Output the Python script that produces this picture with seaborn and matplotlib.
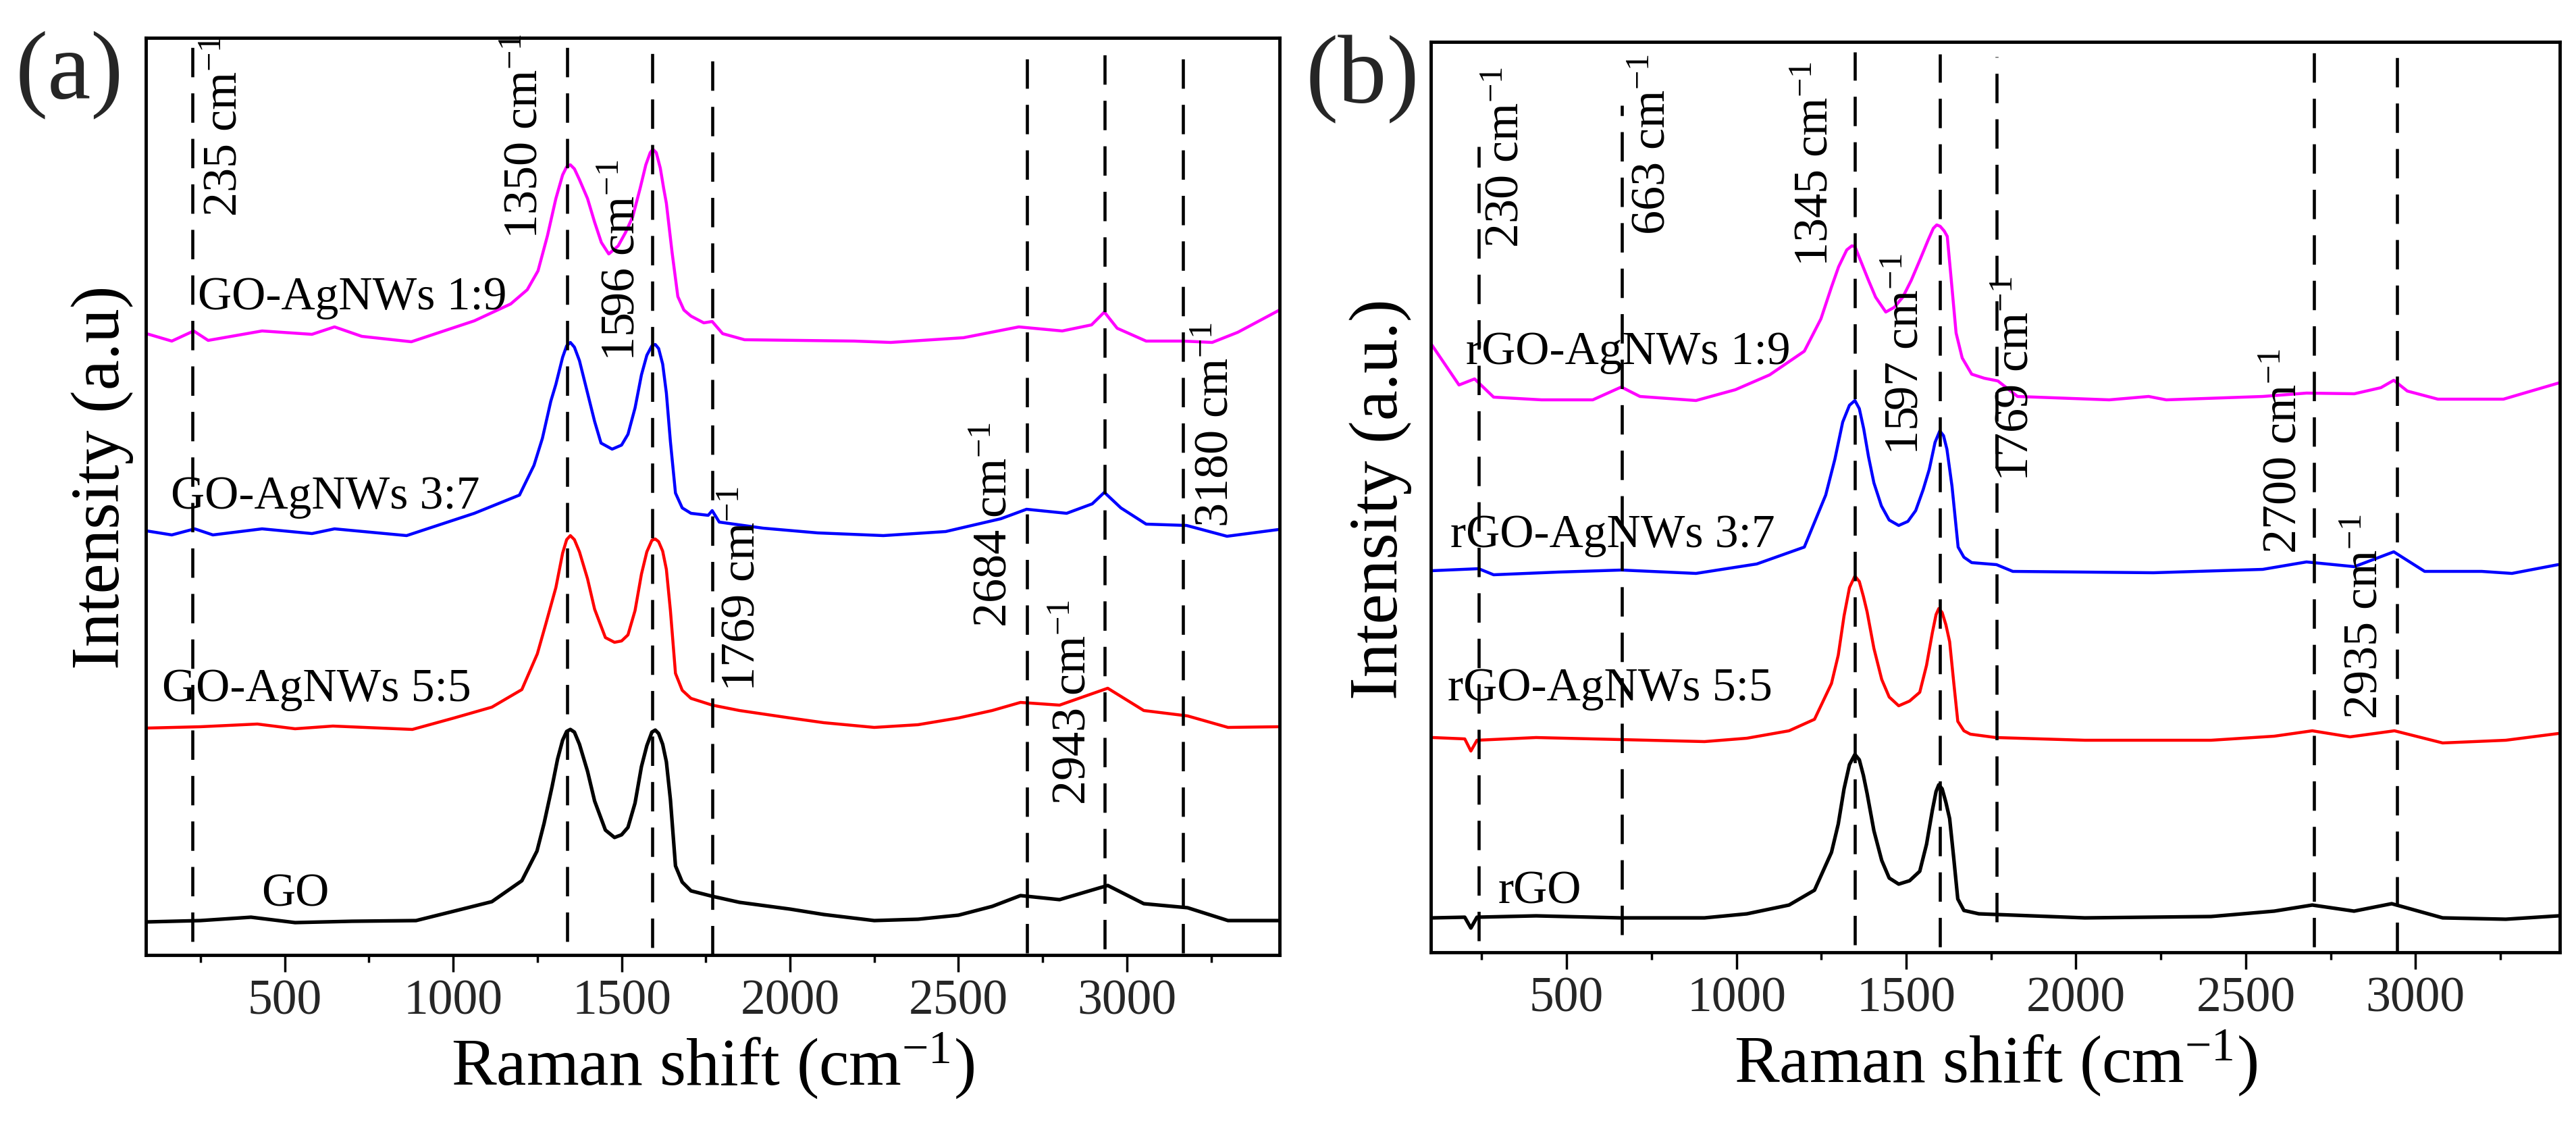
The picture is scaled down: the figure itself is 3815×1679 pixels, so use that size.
import numpy as np
import pandas as pd
import matplotlib
matplotlib.use("Agg")
import matplotlib.pyplot as plt
from matplotlib.ticker import AutoMinorLocator
import seaborn as sns

# ---------------- Panel (a) data : GO / GO-AgNWs ----------------
a_go_x = [90, 250, 400, 531, 700, 890, 1003, 1115, 1204, 1249, 1270, 1294, 1310, 1325, 1337, 1348, 1360,
          1375, 1399, 1420, 1452, 1479, 1500, 1519, 1540, 1559, 1575, 1590, 1600, 1610, 1622, 1633,
          1645, 1660, 1680, 1706, 1769, 1850, 2000, 2100, 2250, 2380, 2500, 2600, 2684, 2800, 2943,
          3050, 3180, 3300, 3450]
a_go_y = [49, 51, 56, 48, 50, 51, 65, 79, 110, 154, 195, 250, 290, 318, 331, 334, 330,
          312, 272, 228, 185, 174, 178, 189, 225, 279, 310, 330, 333, 328, 312, 286,
          230, 132, 108, 95, 87, 78, 68, 60, 51, 53, 59, 72, 88, 82, 103,
          76, 70, 51, 51]

a_55_x = [90, 250, 419, 531, 643, 879, 1003, 1115, 1204, 1250, 1275, 1305, 1325, 1337, 1348, 1360, 1375,
          1399, 1420, 1452, 1479, 1500, 1519, 1540, 1559, 1575, 1590, 1600, 1610, 1622, 1633, 1645,
          1660, 1680, 1706, 1769, 1850, 2000, 2100, 2250, 2380, 2500, 2600, 2684, 2800, 2943, 3050,
          3180, 3300, 3450]
a_55_y = [336, 338, 342, 335, 339, 334, 351, 367, 393, 446, 490, 544, 595, 615, 621, 615, 597,
          557, 512, 470, 463, 465, 474, 510, 564, 597, 614, 616, 612, 598, 571, 510,
          417, 392, 380, 370, 362, 351, 344, 337, 341, 351, 362, 374, 370, 395, 362,
          354, 337, 338]

a_37_x = [90, 165, 233, 287, 433, 581, 648, 862, 1063, 1197, 1240, 1265, 1290, 1305, 1325, 1337, 1348,
          1360, 1375, 1399, 1420, 1439, 1472, 1500, 1519, 1540, 1559, 1575, 1590, 1600, 1610, 1622,
          1633, 1645, 1660, 1680, 1706, 1757, 1769, 1790, 1920, 2082, 2277, 2462, 2626, 2702, 2821,
          2897, 2933, 2982, 3057, 3177, 3297, 3450]
a_37_y = [628, 622, 631, 622, 631, 624, 631, 621, 654, 681, 725, 765, 820, 845, 885, 902, 907,
          900, 880, 832, 790, 758, 749, 755, 771, 810, 859, 888, 902, 904, 898, 875,
          832, 760, 684, 662, 654, 651, 658, 641, 632, 625, 621, 627, 646, 660, 654,
          668, 685, 662, 638, 636, 620, 630]

a_19_x = [90, 165, 230, 273, 433, 581, 648, 729, 876, 1063, 1171, 1220, 1252, 1280, 1305, 1325, 1337,
          1348, 1360, 1375, 1399, 1420, 1440, 1462, 1490, 1512, 1533, 1555, 1572, 1585, 1593, 1603,
          1615, 1625, 1633, 1650, 1667, 1685, 1706, 1744, 1769, 1800, 1865, 2191, 2299, 2515, 2679,
          2808, 2895, 2933, 2971, 3057, 3167, 3253, 3329, 3453]
a_19_y = [920, 909, 924, 910, 924, 919, 930, 916, 908, 939, 964, 985, 1013, 1065, 1120, 1155, 1167,
          1170, 1164, 1148, 1120, 1085, 1055, 1038, 1050, 1070, 1093, 1135, 1170, 1188, 1193, 1188,
          1165, 1135, 1113, 1040, 975, 955, 946, 936, 938, 920, 911, 909, 907, 914, 930,
          924, 933, 952, 928, 909, 909, 907, 922, 955]

a_names = ["GO", "GO-AgNWs 5:5", "GO-AgNWs 3:7", "GO-AgNWs 1:9"]
a_label_x = [431, 137, 163, 243]
a_label_y = [73, 376, 661, 956]

a_peak_lines = [226, 1339, 1592, 1770, 2703, 2934, 3166]
a_peak_top = [1357, 1355, 1351, 1332, 1337, 1349, 1343]
a_peak_bottom = [20, 20, 11, 0, 3, 9, 3]
a_peak_text = ["235", "1350", "1596", "1769", "2684", "2943", "3180"]
a_peak_text_x = [323, 1215, 1503, 1860, 2608, 2842, 3265]
a_peak_text_y = [1093, 1060, 879, 390, 485, 222, 633]

# ---------------- Panel (b) data : rGO / rGO-AgNWs ----------------
b_go_x = [106, 200, 218, 236, 410, 659, 906, 1031, 1155, 1230, 1280, 1300, 1317, 1333, 1349, 1362, 1374,
          1385, 1405, 1428, 1450, 1478, 1510, 1540, 1560, 1577, 1588, 1596, 1606, 1617, 1628, 1640,
          1652, 1670, 1714, 2026, 2398, 2584, 2696, 2819, 2930, 3080, 3266, 3421]
b_go_y = [51, 52, 36, 52, 54, 51, 51, 57, 70, 92, 148, 190, 242, 278, 293, 285, 262,
          235, 180, 136, 110, 101, 106, 120, 160, 210, 238, 248, 242, 222, 198, 140,
          79, 62, 57, 51, 53, 61, 70, 61, 72, 51, 49, 54]

b_55_x = [106, 200, 218, 236, 410, 659, 906, 1031, 1155, 1230, 1280, 1300, 1317, 1333, 1349, 1362, 1374,
          1385, 1405, 1428, 1450, 1478, 1510, 1540, 1560, 1577, 1588, 1596, 1606, 1617, 1628, 1640,
          1652, 1670, 1689, 1764, 2026, 2398, 2584, 2696, 2807, 2938, 3080, 3266, 3421]
b_55_y = [318, 316, 298, 314, 318, 315, 312, 317, 328, 345, 398, 440, 498, 540, 557, 549, 527,
          504, 450, 404, 378, 365, 372, 385, 425, 473, 500, 509, 503, 485, 460, 400,
          342, 328, 323, 318, 314, 314, 320, 328, 319, 328, 310, 314, 324]

b_37_x = [102, 241, 285, 476, 661, 881, 1060, 1200, 1263, 1290, 1313, 1333, 1349, 1362, 1375, 1389, 1405,
          1427, 1450, 1478, 1505, 1528, 1550, 1568, 1585, 1599, 1610, 1620, 1635, 1653, 1670, 1693,
          1766, 1814, 2228, 2550, 2679, 2820, 2936, 3027, 3195, 3284, 3420]
b_37_y = [565, 568, 559, 563, 566, 561, 575, 600, 677, 730, 785, 810, 817, 805, 775, 734, 695,
          661, 640, 632, 638, 654, 685, 715, 755, 772, 765, 745, 690, 600, 585, 577,
          574, 564, 562, 567, 578, 571, 593, 564, 564, 561, 574]

b_19_x = [102, 183, 229, 285, 426, 577, 661, 716, 881, 997, 1098, 1200, 1249, 1280, 1301, 1325, 1340,
          1349, 1365, 1389, 1410, 1440, 1465, 1490, 1515, 1542, 1565, 1580, 1590, 1600, 1612, 1621,
          1632, 1647, 1665, 1693, 1730, 1770, 1828, 2098, 2214, 2266, 2550, 2679, 2820, 2898, 2936,
          2976, 3066, 3259, 3422]
b_19_y = [900, 840, 849, 822, 818, 818, 837, 823, 817, 833, 855, 890, 938, 985, 1015, 1040, 1046,
          1045, 1025, 995, 970, 948, 955, 970, 995, 1027, 1055, 1072, 1077, 1075, 1068, 1060,
          1000, 917, 880, 856, 850, 846, 823, 818, 823, 818, 823, 828, 827, 836, 847,
          831, 819, 819, 843]

b_names = ["rGO", "rGO-AgNWs 5:5", "rGO-AgNWs 3:7", "rGO-AgNWs 1:9"]
b_label_x = [298, 150, 157, 203]
b_label_y = [73, 373, 600, 871]

b_peak_lines = [242, 662, 1349, 1600, 1767, 2701, 2946]
b_peak_top = [1193, 1254, 1333, 1330, 1326, 1339, 1335]
b_peak_bottom = [17, 26, 11, 8, 45, 8, 1]
b_peak_text = ["230", "663", "1345", "1597", "1769", "2700", "2935"]
b_peak_text_x = [322, 755, 1234, 1499, 1823, 2614, 2853]
b_peak_text_y = [1043, 1062, 1015, 736, 697, 590, 345]

colors = ["#000000", "#FF0000", "#0000FF", "#FF00FF"]
widths = [3.8, 3.2, 3.2, 3.2]

# ---------------- style ----------------
sns.set_theme(style="white")
SERIF = ["Liberation Serif", "DejaVu Serif"]
plt.rcParams["font.family"] = SERIF
plt.rcParams["mathtext.fontset"] = "custom"
plt.rcParams["mathtext.rm"] = "Liberation Serif"
plt.rcParams["mathtext.it"] = "Liberation Serif:italic"
plt.rcParams["mathtext.bf"] = "Liberation Serif:bold"


def build_df(xs, ys, names):
    frames = []
    for x, y, n in zip(xs, ys, names):
        frames.append(pd.DataFrame({"shift": x, "intensity": y, "sample": n}))
    return pd.concat(frames, ignore_index=True)


fig = plt.figure(figsize=(38.16, 16.79), dpi=100)
ax_a = fig.add_axes([216 / 3816, 1 - 1414 / 1679, 1679 / 3816, 1358 / 1679])
ax_b = fig.add_axes([2119 / 3816, 1 - 1410 / 1679, 1672 / 3816, 1348 / 1679])

panels = [
    (ax_a, build_df([a_go_x, a_55_x, a_37_x, a_19_x], [a_go_y, a_55_y, a_37_y, a_19_y], a_names),
     a_names, a_label_x, a_label_y, a_peak_lines, a_peak_top, a_peak_bottom,
     a_peak_text, a_peak_text_x, a_peak_text_y, (88, 3453), (0, 1358), "Intensity (a.u)", (-0.011, 0.521)),
    (ax_b, build_df([b_go_x, b_55_x, b_37_x, b_19_x], [b_go_y, b_55_y, b_37_y, b_19_y], b_names),
     b_names, b_label_x, b_label_y, b_peak_lines, b_peak_top, b_peak_bottom,
     b_peak_text, b_peak_text_x, b_peak_text_y, (100, 3425), (0, 1348), "Intensity (a.u.)", (-0.017, 0.498)),
]

for (ax, df, names, lx, ly, plines, ptop, pbot, ptext, ptx, pty, xlim, ylim, ylab, ylc) in panels:
    sns.lineplot(data=df, x="shift", y="intensity", hue="sample", hue_order=names,
                 palette=dict(zip(names, colors)), sort=False, estimator=None,
                 legend=False, linewidth=3.2, ax=ax, zorder=2)
    for line, w in zip(ax.get_lines(), widths):
        line.set_linewidth(w)
        line.set_solid_joinstyle("round")
    ax.vlines(plines, pbot, ptop, colors="black", linestyles=(0, (9.5, 5.2)), linewidth=3.3, zorder=3)
    for t, x, y in zip(ptext, ptx, pty):
        ax.text(x, y, t + " cm$^{-1}$", rotation=90, ha="center", va="bottom",
                fontsize=52, color="black", zorder=4, family=SERIF)
    for n, x, y in zip(names, lx, ly):
        ax.text(x, y, n, ha="left", va="baseline", fontsize=50, color="black", zorder=4, family=SERIF)
    ax.set_xlim(*xlim)
    ax.set_ylim(*ylim)
    ax.set_xticks([500, 1000, 1500, 2000, 2500, 3000])
    ax.xaxis.set_minor_locator(AutoMinorLocator(2))
    ax.set_yticks([])
    ax.tick_params(axis="x", which="major", direction="out", length=18, width=2.5,
                   labelsize=53, pad=8, color="black", bottom=True)
    ax.tick_params(axis="x", which="minor", direction="out", length=8, width=2.5,
                   color="black", bottom=True)
    ax.tick_params(axis="y", left=False, labelleft=False)
    for lab in ax.get_xticklabels():
        lab.set_family(SERIF)
    for s in ax.spines.values():
        s.set_color("black")
        s.set_linewidth(3.5)
    ax.set_xlabel("Raman shift (cm$^{-1}$)", fontsize=72, labelpad=6, color="black", family=SERIF)
    ax.set_ylabel(ylab, fontsize=73, color="black", family=SERIF)
    ax.yaxis.set_label_coords(*ylc)

fig.text(103 / 3816, 1 - 111 / 1679, "(a)", fontsize=104, ha="center", va="center", family=SERIF)
fig.text(2018 / 3816, 1 - 118 / 1679, "(b)", fontsize=104, ha="center", va="center", family=SERIF)

fig.savefig("out.png", dpi=100, facecolor="white")
